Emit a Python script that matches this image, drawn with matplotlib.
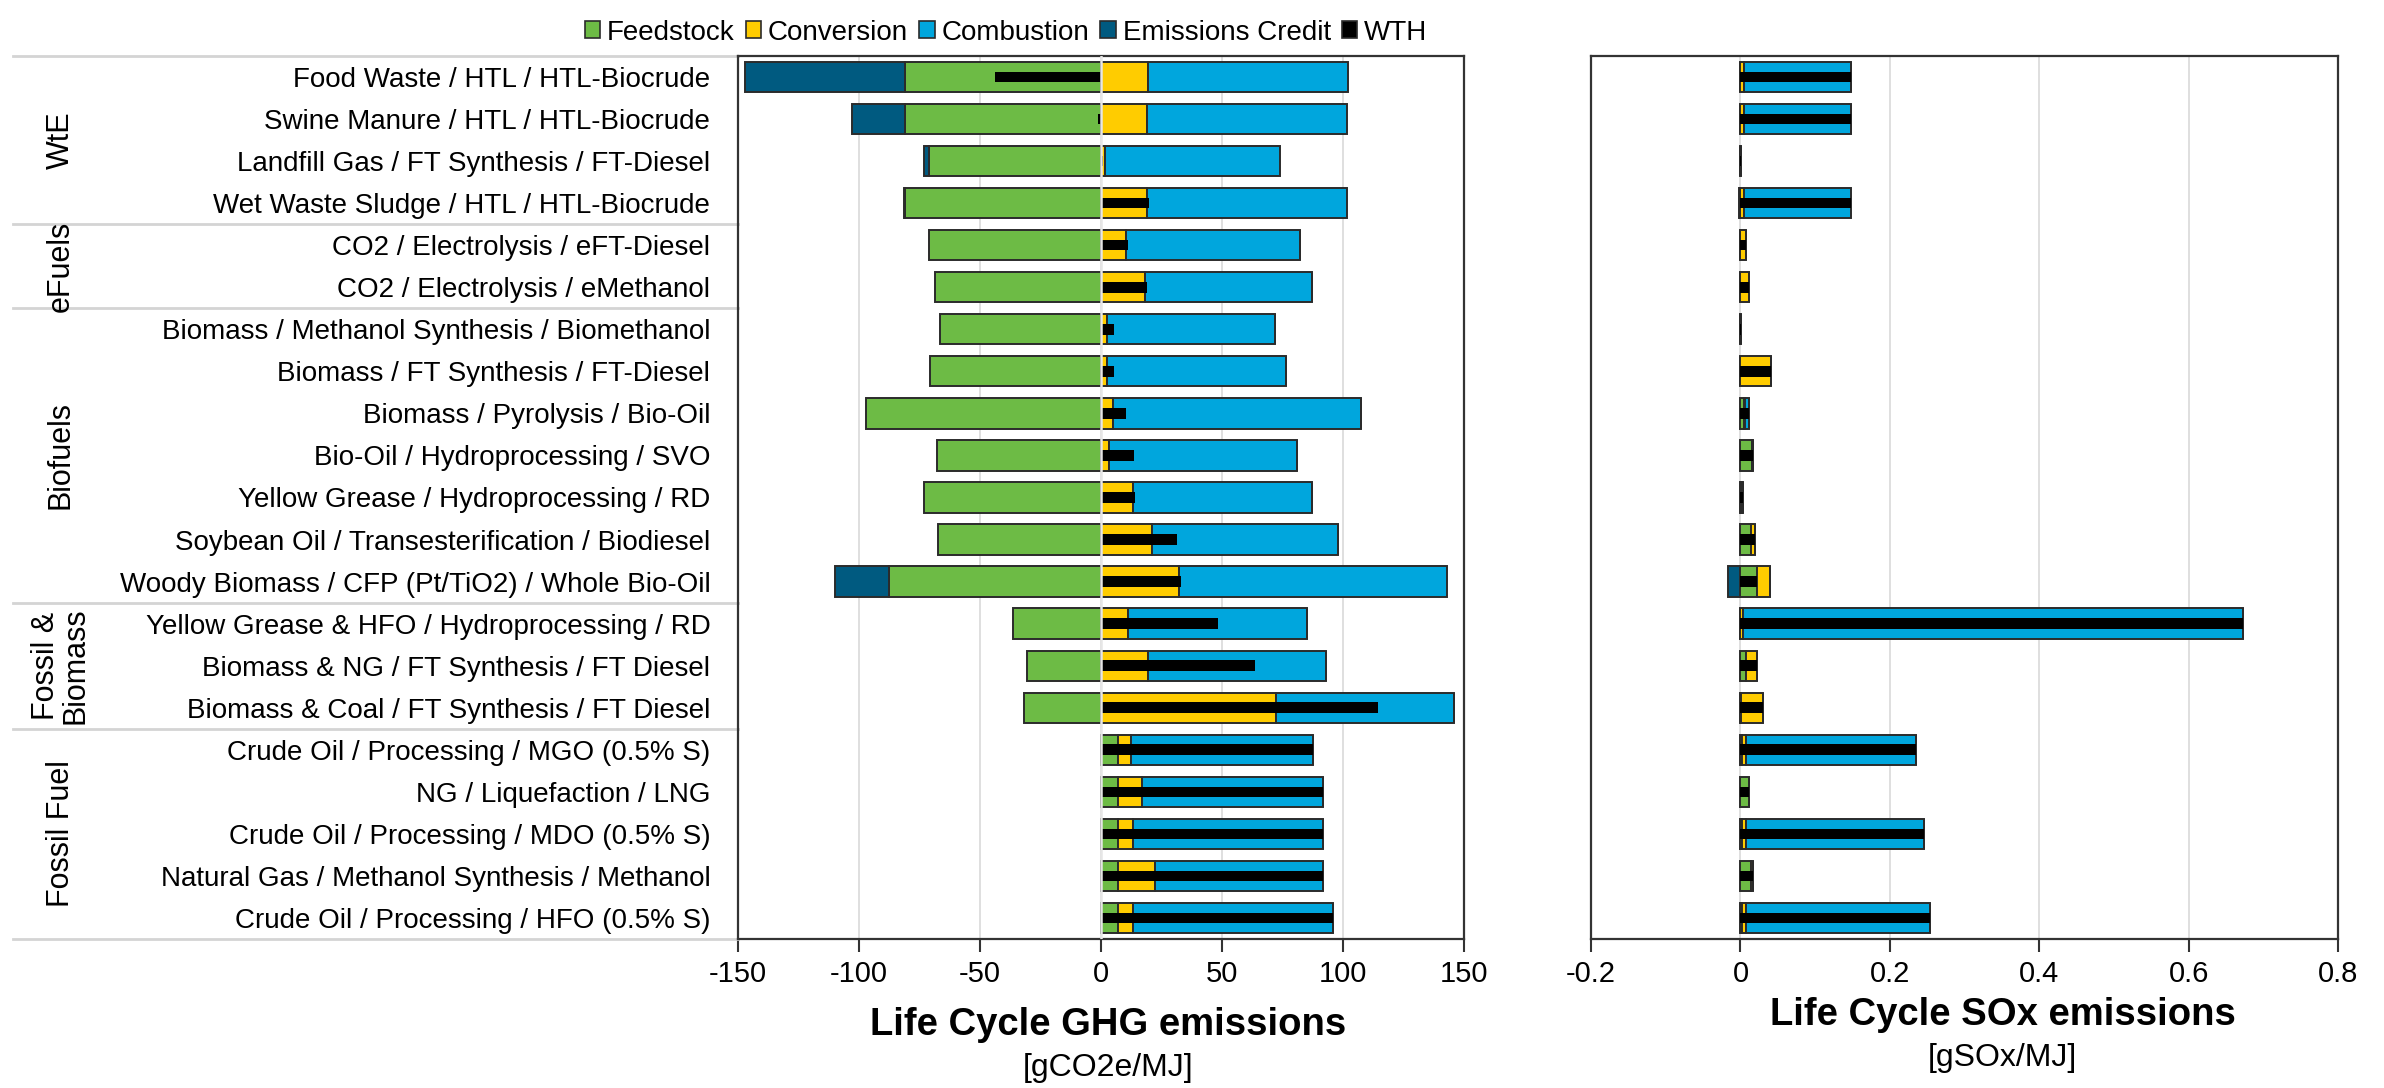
import numpy as np
import matplotlib
matplotlib.use("Agg")
import matplotlib.pyplot as plt
from matplotlib.patches import Patch
from matplotlib.lines import Line2D
from matplotlib.transforms import blended_transform_factory

plt.rcParams['axes.unicode_minus'] = False
plt.rcParams['font.family'] = ['Liberation Sans', 'DejaVu Sans']

# pathways, top to bottom
labels = [
    "Food Waste / HTL / HTL-Biocrude",
    "Swine Manure / HTL / HTL-Biocrude",
    "Landfill Gas / FT Synthesis / FT-Diesel",
    "Wet Waste Sludge / HTL / HTL-Biocrude",
    "CO2 / Electrolysis / eFT-Diesel",
    "CO2 / Electrolysis / eMethanol",
    "Biomass / Methanol Synthesis / Biomethanol",
    "Biomass / FT Synthesis / FT-Diesel",
    "Biomass / Pyrolysis / Bio-Oil",
    "Bio-Oil / Hydroprocessing / SVO",
    "Yellow Grease / Hydroprocessing / RD",
    "Soybean Oil / Transesterification / Biodiesel",
    "Woody Biomass / CFP (Pt/TiO2) / Whole Bio-Oil",
    "Yellow Grease & HFO / Hydroprocessing / RD",
    "Biomass & NG / FT Synthesis / FT Diesel",
    "Biomass & Coal / FT Synthesis / FT Diesel",
    "Crude Oil / Processing / MGO (0.5% S)",
    "NG / Liquefaction / LNG",
    "Crude Oil / Processing / MDO (0.5% S)",
    "Natural Gas / Methanol Synthesis / Methanol",
    "Crude Oil / Processing / HFO (0.5% S)",
]
group_names = ["WtE", "eFuels", "Biofuels", "Fossil &\nBiomass", "Fossil Fuel"]
group_bounds = [0, 4, 6, 13, 16, 21]

series_names = ["Feedstock", "Conversion", "Combustion", "Emissions Credit", "WTH"]
colors = ["#6dbb45", "#ffcc00", "#00a6dd", "#005a80", "#000000"]

# GHG, gCO2e/MJ
ghg_feed = [-81, -81, -71, -81, -71, -68.6, -66.7, -70.5, -97, -67.9, -73.2, -67.3, -87.8,
            -36.3, -30.6, -31.9, 7.2, 7.2, 7.2, 7.2, 7.2]
ghg_conv = [19.6, 19, 1.7, 19, 10.3, 18.1, 2.3, 2.3, 5.1, 3.2, 13.1, 20.9, 32.3,
            11.2, 19.6, 72.4, 5.2, 9.7, 5.9, 15.0, 5.9]
ghg_comb = [82.5, 82.5, 72.1, 82.5, 72, 69.2, 69.6, 74.1, 102.5, 77.8, 74, 77.2, 110.7,
            73.8, 73.4, 73.4, 75.2, 74.7, 78.5, 69.4, 82.7]
ghg_credit = [-66, -22, -2, -0.6, 0, 0, 0, 0, 0, 0, 0, 0, -22.3,
              0, 0, 0, 0, 0, 0, 0, 0]
ghg_wth = [-44, -1.3, 1, 19.8, 11.2, 18.8, 5.3, 5.5, 10.3, 13.5, 14.1, 31.2, 32.9,
           48.3, 63.5, 114.3, 87.6, 91.6, 91.6, 91.6, 95.8]

# SOx, gSOx/MJ
sox_feed = [0, 0, 0, 0, 0, 0, 0, 0, 0.005, 0.015, 0.001, 0.0136, 0.022,
            0, 0.007, 0.001, 0.002, 0.011, 0.002, 0.0136, 0.002]
sox_conv = [0.0045, 0.0045, 0.0005, 0.0045, 0.007, 0.011, 0.0005, 0.0415, 0.001, 0.002, 0.001, 0.006, 0.017,
            0.003, 0.015, 0.029, 0.005, 0, 0.005, 0.0038, 0.005]
sox_comb = [0.1435, 0.1435, 0, 0.1435, 0, 0, 0, 0, 0.005, 0, 0.001, 0, 0,
            0.6695, 0, 0, 0.2285, 0, 0.239, 0, 0.247]
sox_credit = [0, 0, 0, -0.002, 0, 0, 0, 0, 0, 0, 0, 0, -0.017,
              0, 0, 0, 0, 0, 0, 0, 0]
sox_wth = [0.148, 0.148, 0.001, 0.148, 0.007, 0.011, 0.001, 0.0415, 0.011, 0.017, 0.003, 0.0196, 0.022,
           0.6725, 0.022, 0.030, 0.2355, 0.011, 0.246, 0.0174, 0.254]

ghg_ticks = [-150, -100, -50, 0, 50, 100, 150]
ghg_ticklabels = ["-150", "-100", "-50", "0", "50", "100", "150"]
sox_ticks = [-0.2, 0, 0.2, 0.4, 0.6, 0.8]
sox_ticklabels = ["-0.2", "0", "0.2", "0.4", "0.6", "0.8"]

n = len(labels)
y = np.arange(n)
edge = "#2b2b2b"


def draw_stack(ax, parts, wth):
    pos = np.zeros(n)
    neg = np.zeros(n)
    for vals, c in zip(parts, colors[:4]):
        vals = np.asarray(vals, dtype=float)
        left = np.where(vals >= 0, pos, neg)
        ax.barh(y, vals, left=left, height=0.72, color=c, edgecolor=edge, linewidth=1.4, zorder=2)
        pos += np.clip(vals, 0, None)
        neg += np.clip(vals, None, 0)
    ax.barh(y, wth, height=0.25, color="black", linewidth=0, zorder=3)


def style_axes(ax, ticks, ticklabels):
    ax.set_ylim(n - 0.5, -0.5)
    ax.set_xlim(ticks[0], ticks[-1])
    ax.set_xticks(ticks)
    ax.set_xticklabels(ticklabels, fontsize=21)
    ax.grid(axis="x", color="#d9d9d9", linewidth=1.2, zorder=0)
    ax.set_axisbelow(True)
    for s in ax.spines.values():
        s.set_color("#333333")
        s.set_linewidth(1.6)
    ax.tick_params(axis="x", direction="out", length=9, width=1.5, color="#333333", pad=6)


fig = plt.figure(figsize=(23.84, 10.88), dpi=100)
ax1 = fig.add_axes([0.3096, 0.137, 0.3045, 0.8115])
ax2 = fig.add_axes([0.6674, 0.137, 0.3133, 0.8115])

draw_stack(ax1, [ghg_feed, ghg_conv, ghg_comb, ghg_credit], ghg_wth)
style_axes(ax1, ghg_ticks, ghg_ticklabels)
ax1.axvline(0, color="#e6e6e6", linewidth=1.8, zorder=4)
ax1.set_yticks(y)
ax1.set_yticklabels(labels, fontsize=20)
ax1.tick_params(axis="y", length=0, pad=20)

draw_stack(ax2, [sox_feed, sox_conv, sox_comb, sox_credit], sox_wth)
style_axes(ax2, sox_ticks, sox_ticklabels)
ax2.set_yticks([])

# group separators and group names at the left
tr = blended_transform_factory(fig.transFigure, ax1.transData)
for b in group_bounds:
    ax1.add_line(Line2D([0.0055, 0.3096], [b - 0.5, b - 0.5], transform=tr,
                        color="#d4d4d4", linewidth=2, clip_on=False))
for i, g in enumerate(group_names):
    mid = (group_bounds[i] + group_bounds[i + 1] - 1) / 2
    ax1.text(0.0255, mid, g, transform=tr, rotation=90, ha="center", va="center",
             fontsize=22, linespacing=1.0)

# legend
handles = [Patch(facecolor=c, edgecolor=edge, linewidth=1.2) for c in colors]
fig.legend(handles, series_names, loc="upper center", bbox_to_anchor=(0.422, 1.005), ncol=5,
           frameon=False, prop={"size": 20}, handlelength=0.55,
           handleheight=0.55, handletextpad=0.25, columnspacing=0.4)

# axis titles
fig.text(0.4648, 0.058, "Life Cycle GHG emissions", ha="center", va="center",
         fontsize=27.5, fontweight="bold")
fig.text(0.4648, 0.018, "[gCO2e/MJ]", ha="center", va="center", fontsize=23)
fig.text(0.840, 0.067, "Life Cycle SOx emissions", ha="center", va="center",
         fontsize=27.5, fontweight="bold")
fig.text(0.840, 0.028, "[gSOx/MJ]", ha="center", va="center", fontsize=23)

fig.savefig("out.png", dpi=100)
